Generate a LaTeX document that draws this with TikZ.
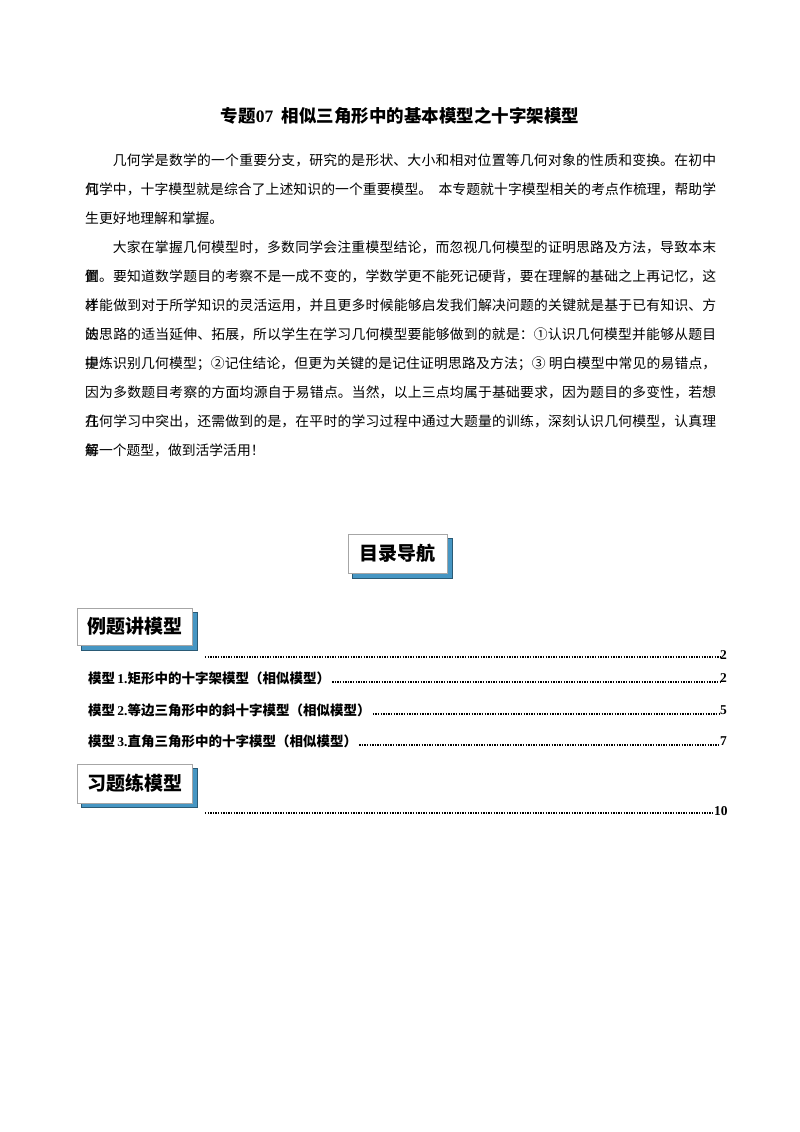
\documentclass[tikz,border=0pt]{standalone}
\usepackage{fontspec}
\setmainfont{Noto Sans CJK SC}
\newfontfamily\serifnum{Liberation Serif}
\XeTeXlinebreaklocale "zh"
\XeTeXlinebreakskip=0pt plus 2pt
\definecolor{shadowblue}{RGB}{70,150,195}
\tikzset{
  ln/.style={anchor=base west,text width=631pt,inner sep=0pt,font=\fontsize{13.8pt}{29pt}\selectfont,align=justify},
  lnl/.style={anchor=base west,inner sep=0pt,font=\fontsize{13.8pt}{29pt}\selectfont},
  navbox/.style={draw=gray!70,line width=0.8pt,fill=white,inner sep=0pt,font=\bfseries\fontsize{19pt}{19pt}\selectfont},
  tocline/.style={anchor=west,inner sep=0pt,font=\bfseries\fontsize{13.5pt}{14pt}\selectfont},
  dots/.style={line width=1.6pt,dash pattern=on 1.4pt off 1.2pt}
}
\newcommand{\jl}[1]{\parfillskip=0pt #1\par}
\begin{document}
\begin{tikzpicture}[x=1pt,y=-1pt]
\useasboundingbox[fill=white] (0,0) rectangle (800,1132);
\node[font=\bfseries\fontsize{17.5pt}{18pt}\selectfont] (title) at (400,116) {专题{\serifnum 07}\ \ 相似三角形中的基本模型之十字架模型};
\node[ln] (l1) at (85,165) {\jl{\hspace*{27.6pt}几何学是数学的一个重要分支，研究的是形状、大小和相对位置等几何对象的性质和变换。在初中几}};
\node[ln] (l2) at (85,194) {\jl{何学中，十字模型就是综合了上述知识的一个重要模型。\ \ 本专题就十字模型相关的考点作梳理，帮助学}};
\node[lnl] (l3) at (85,223) {生更好地理解和掌握。};
\node[ln] (l4) at (85,252) {\jl{\hspace*{27.6pt}大家在掌握几何模型时，多数同学会注重模型结论，而忽视几何模型的证明思路及方法，导致本末倒}};
\node[ln] (l5) at (85,281) {\jl{置。要知道数学题目的考察不是一成不变的，学数学更不能死记硬背，要在理解的基础之上再记忆，这样}};
\node[ln] (l6) at (85,310) {\jl{才能做到对于所学知识的灵活运用，并且更多时候能够启发我们解决问题的关键就是基于已有知识、方法}};
\node[ln] (l7) at (85,339) {\jl{的思路的适当延伸、拓展，所以学生在学习几何模型要能够做到的就是：①认识几何模型并能够从题目中}};
\node[ln] (l8) at (85,368) {\jl{提炼识别几何模型；②记住结论，但更为关键的是记住证明思路及方法；③\ 明白模型中常见的易错点，}};
\node[ln] (l9) at (85,397) {\jl{因为多数题目考察的方面均源自于易错点。当然，以上三点均属于基础要求，因为题目的多变性，若想在}};
\node[ln] (l10) at (85,426) {\jl{几何学习中突出，还需做到的是，在平时的学习过程中通过大题量的训练，深刻认识几何模型，认真理解}};
\node[lnl] (l11) at (85,455) {每一个题型，做到活学活用！};

\fill[shadowblue,draw=shadowblue!60!black,line width=0.6pt] (352,538) rectangle (452,578);
\node[navbox,minimum width=99pt,minimum height=39pt] (nav) at (397.5,553.5) {目录导航};

\fill[shadowblue,draw=shadowblue!60!black,line width=0.6pt] (81,612) rectangle (197,650);
\node[navbox,minimum width=115pt,minimum height=37pt] (ex) at (134.5,626.5) {例题讲模型};

\fill[shadowblue,draw=shadowblue!60!black,line width=0.6pt] (81,768) rectangle (197,807);
\node[navbox,minimum width=115pt,minimum height=39pt] (pr) at (134.5,783.5) {习题练模型};

% TOC
\coordinate (d1s) at (205,657);
\node[tocline] (n1) at (720,655) {\serifnum 2};
\draw[dots] (d1s) -- ([yshift=-2pt]n1.west);

\node[tocline] (t2) at (88,678) {模型\,{\serifnum 1.}矩形中的十字架模型（相似模型）};
\node[tocline] (n2) at (720,678) {\serifnum 2};
\draw[dots] ([xshift=2pt,yshift=-4pt]t2.east) -- ([yshift=-4pt]n2.west);

\node[tocline] (t3) at (88,710) {模型\,{\serifnum 2.}等边三角形中的斜十字模型（相似模型）};
\node[tocline] (n3) at (720,710) {\serifnum 5};
\draw[dots] ([xshift=2pt,yshift=-4pt]t3.east) -- ([yshift=-4pt]n3.west);

\node[tocline] (t4) at (88,741) {模型\,{\serifnum 3.}直角三角形中的十字模型（相似模型）};
\node[tocline] (n4) at (720,741) {\serifnum 7};
\draw[dots] ([xshift=2pt,yshift=-4pt]t4.east) -- ([yshift=-4pt]n4.west);

\coordinate (d5s) at (205,813);
\node[tocline] (n5) at (714,811) {\serifnum 10};
\draw[dots] (d5s) -- ([yshift=-2pt]n5.west);
\end{tikzpicture}
\end{document}
